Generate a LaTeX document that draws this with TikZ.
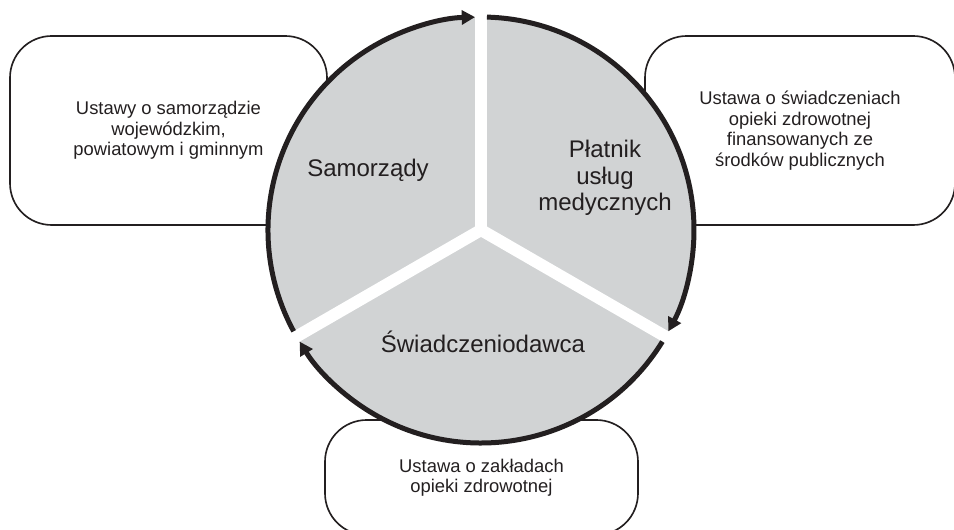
\documentclass[tikz,border=0pt]{standalone}
\usepackage{fontspec}
\setmainfont{Liberation Sans}
\usetikzlibrary{arrows.meta}
\definecolor{ringgray}{HTML}{D1D3D4}
\definecolor{ink}{HTML}{231F20}

\begin{document}
\begin{tikzpicture}[
  law/.style={align=center, draw=ink, line width=1.4pt, rounded corners=1.25cm, fill=white, inner sep=0pt, text=ink, font=\fontsize{15.7}{17.5}\selectfont},
  actor/.style={align=center, text=ink, font=\fontsize{20.5}{22.5}\selectfont},
  spoke/.style={white, line width=0.36cm},
  ring/.style={draw=ink, line width=0.15cm, -{Triangle[length=0.4cm, width=0.42cm]}}
]
  \useasboundingbox (0,0) rectangle (28.62,15.9);

  \node[law, minimum width=9.51cm, minimum height=5.67cm] (L) at (5.055,11.985) {Ustawy o samorządzie\\ wojewódzkim,\\ powiatowym i gminnym};
  \node[law, minimum width=9.3cm, minimum height=5.67cm] (R) at (24.0,11.985) {Ustawa o świadczeniach\\ opieki zdrowotnej\\ finansowanych ze\\ środków publicznych};
  \node[law, minimum width=9.39cm, minimum height=3.45cm] (B) at (14.445,1.575) {Ustawa o zakładach\\ opieki zdrowotnej};

  \coordinate (O) at (14.43,9.0);
  \fill[ringgray] (O) circle[radius=6.39];
  \foreach \a in {90,-30,210}
    \draw[spoke] (O) -- ++(\a:6.7);

  \foreach \s/\e in {208.4/91.6, 88.4/-28.4, -31.6/-148.4}
    \draw[ring] ([shift={(\s:6.39)}]O) arc[start angle=\s, end angle=\e, radius=6.39];

  \node[actor] (S) at (11.04,10.8) {Samorządy};
  \node[actor] (P) at (18.15,10.56) {Płatnik\\ usług\\ medycznych};
  \node[actor] (W) at (14.49,5.64) {Świadczeniodawca};

\end{tikzpicture}
\end{document}
